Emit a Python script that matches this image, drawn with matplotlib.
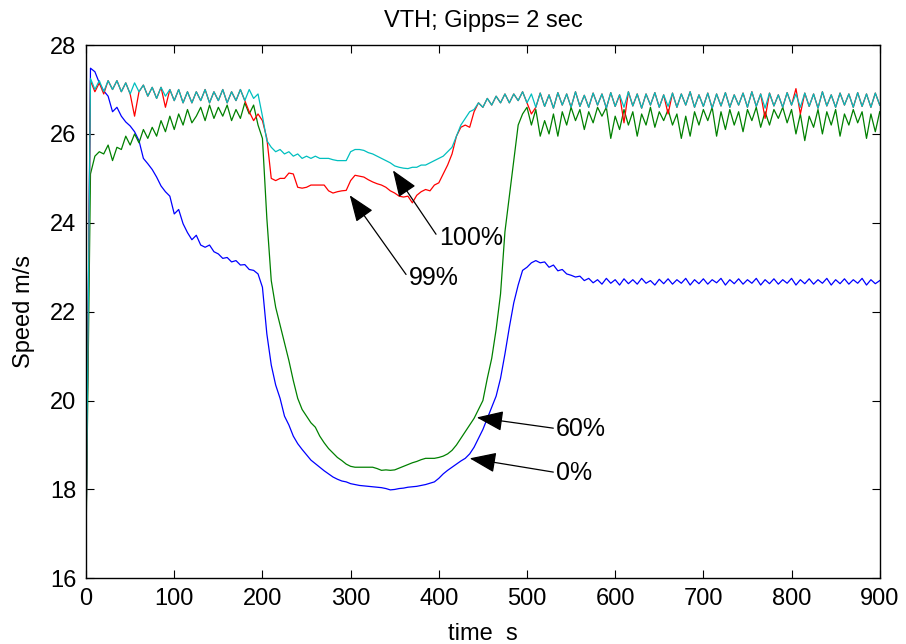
import numpy as np
import matplotlib.pyplot as plt

plt.rcParams['font.family'] = ['Liberation Sans', 'DejaVu Sans']

# time axis: one sample every 5 s, 0..900 s
time_s = np.arange(0, 905, 5)

# speed, 0% equipped (blue)
speed_0 = [
    17.0, 27.48, 27.4, 27.15, 26.97, 26.85, 26.5, 26.6, 26.4, 26.27,
    26.18, 26.05, 25.85, 25.45, 25.33, 25.2, 25.03, 24.83, 24.7, 24.6,
    24.2, 24.3, 23.98, 23.78, 23.62, 23.72, 23.5, 23.45, 23.5, 23.35,
    23.3, 23.2, 23.22, 23.12, 23.15, 23.05, 23.06, 22.95, 22.93, 22.85,
    22.55, 21.5, 20.8, 20.35, 20.05, 19.65, 19.45, 19.2, 19.03, 18.9,
    18.78, 18.66, 18.58, 18.5, 18.42, 18.35, 18.28, 18.23, 18.19, 18.17,
    18.13, 18.11, 18.09, 18.08, 18.07, 18.06, 18.05, 18.04, 18.02, 17.99,
    18.0, 18.02, 18.03, 18.05, 18.06, 18.07, 18.09, 18.11, 18.14, 18.17,
    18.25, 18.35, 18.43, 18.5, 18.57, 18.64, 18.7, 18.8, 18.95, 19.15,
    19.35, 19.6, 19.85, 20.1, 20.5, 21.05, 21.65, 22.2, 22.6, 22.93,
    23.0, 23.1, 23.15, 23.1, 23.12, 23.0, 23.05, 22.92, 22.95, 22.85,
    22.82, 22.78, 22.8, 22.7, 22.75, 22.65, 22.72, 22.62, 22.75, 22.64,
    22.72, 22.6, 22.74, 22.63, 22.72, 22.62, 22.75, 22.64, 22.7, 22.6,
    22.73, 22.63, 22.74, 22.62, 22.72, 22.64, 22.75, 22.6, 22.72, 22.63,
    22.74, 22.62, 22.72, 22.65, 22.75, 22.6, 22.72, 22.63, 22.74, 22.62,
    22.72, 22.64, 22.75, 22.6, 22.72, 22.63, 22.74, 22.62, 22.72, 22.64,
    22.75, 22.6, 22.72, 22.63, 22.74, 22.62, 22.72, 22.64, 22.75, 22.6,
    22.72, 22.63, 22.74, 22.62, 22.72, 22.64, 22.75, 22.6, 22.72, 22.63,
    22.7,
]

# speed, 60% equipped (green)
speed_60 = [
    16.9, 25.1, 25.5, 25.6, 25.55, 25.75, 25.4, 25.7, 25.65, 25.95,
    25.75, 26.0, 25.8, 26.1, 25.9, 26.15, 25.95, 26.3, 26.05, 26.4,
    26.1, 26.45, 26.2, 26.55, 26.25, 26.4, 26.6, 26.3, 26.65, 26.35,
    26.6, 26.4, 26.65, 26.3, 26.55, 26.35, 26.7, 26.45, 26.65, 26.2,
    25.9, 24.1, 22.7, 22.1, 21.7, 21.3, 20.9, 20.45, 20.05, 19.8,
    19.65, 19.5, 19.4, 19.2, 19.05, 18.92, 18.82, 18.72, 18.65, 18.57,
    18.52, 18.5, 18.5, 18.5, 18.5, 18.5, 18.47, 18.43, 18.44, 18.43,
    18.44, 18.48, 18.52, 18.56, 18.6, 18.63, 18.67, 18.7, 18.7, 18.7,
    18.72, 18.75, 18.8, 18.88, 19.0, 19.15, 19.3, 19.45, 19.6, 19.8,
    20.0, 20.5, 20.95, 21.6, 22.4, 23.8, 24.6, 25.4, 26.2, 26.45,
    26.6, 26.2, 26.55, 25.95, 26.3, 26.0, 26.45, 25.95, 26.5, 26.2,
    26.6, 26.3, 26.55, 26.1, 26.5, 26.25, 26.6, 26.4, 26.6, 25.9,
    26.4, 26.1, 26.55, 26.2, 26.5, 25.95, 26.45, 26.2, 26.6, 26.15,
    26.5, 26.3, 26.55, 26.2, 26.45, 25.9, 26.4, 25.95, 26.5, 26.2,
    26.55, 26.3, 26.6, 25.95, 26.5, 26.1, 26.55, 26.2, 26.5, 26.05,
    26.55, 26.3, 26.6, 26.15, 26.5, 26.2, 26.55, 26.35, 26.6, 26.25,
    26.55, 26.0, 26.45, 25.85, 26.4, 26.15, 26.55, 26.0, 26.5, 26.2,
    26.55, 25.95, 26.45, 26.2, 26.55, 26.25, 26.5, 25.9, 26.45, 26.05,
    26.5,
]

# speed, 99% equipped (red)
speed_99 = [
    17.0, 27.2, 26.95, 27.15, 26.9, 27.2, 27.0, 27.2, 26.95, 27.15,
    26.9, 26.4, 26.95, 27.1, 26.85, 27.05, 26.8, 27.05, 26.6, 27.0,
    26.75, 27.0, 26.7, 26.95, 26.7, 26.95, 26.75, 27.0, 26.7, 26.95,
    26.75, 27.0, 26.7, 26.95, 26.75, 27.0, 26.75, 26.5, 26.3, 26.45,
    26.3, 25.9, 25.0, 24.95, 25.0, 25.0, 25.12, 25.1, 24.8, 24.78,
    24.8, 24.85, 24.85, 24.85, 24.85, 24.72, 24.67, 24.7, 24.72, 24.73,
    24.95, 25.07, 25.05, 25.03, 24.97, 24.92, 24.88, 24.85, 24.8, 24.72,
    24.67, 24.6, 24.58, 24.6, 24.45, 24.62, 24.7, 24.75, 24.72, 24.85,
    24.9, 25.1, 25.3, 25.55, 25.95, 26.15, 26.2, 26.15, 26.5, 26.7,
    26.6, 26.8, 26.65, 26.85, 26.7, 26.9, 26.7, 26.9, 26.75, 26.95,
    26.7, 26.45, 26.6, 26.92, 26.62, 26.88, 26.58, 26.93, 26.65, 26.9,
    26.6, 26.95, 26.62, 26.87, 26.6, 26.92, 26.65, 26.9, 26.58, 26.93,
    26.62, 26.88, 26.25, 26.95, 26.63, 26.9, 26.58, 26.9, 26.65, 26.93,
    26.6, 26.88, 26.45, 26.92, 26.6, 26.9, 26.65, 26.95, 26.6, 26.88,
    26.62, 26.92, 26.58, 26.9, 26.63, 26.93, 26.6, 26.88, 26.65, 26.92,
    26.6, 26.95, 26.62, 26.9, 26.35, 26.92, 26.63, 26.88, 26.6, 26.93,
    26.65, 27.02, 26.45, 26.92, 26.62, 26.9, 26.58, 26.95, 26.63, 26.88,
    26.6, 26.92, 26.65, 26.9, 26.6, 26.93, 26.62, 26.9, 26.6, 26.92,
    26.65,
]

# speed, 100% equipped (cyan)
speed_100 = [
    17.0, 27.25, 27.0, 27.2, 26.95, 27.2, 27.0, 27.2, 26.95, 27.15,
    26.9, 27.15, 26.95, 27.1, 26.85, 27.05, 26.8, 27.05, 26.85, 27.0,
    26.75, 27.0, 26.7, 26.95, 26.7, 26.95, 26.75, 27.0, 26.7, 26.95,
    26.75, 27.0, 26.7, 26.95, 26.75, 27.0, 26.75, 27.0, 26.8, 26.9,
    26.4, 25.85, 25.7, 25.6, 25.65, 25.55, 25.6, 25.5, 25.55, 25.45,
    25.5, 25.45, 25.5, 25.45, 25.45, 25.45, 25.42, 25.4, 25.4, 25.4,
    25.6, 25.65, 25.65, 25.63, 25.58, 25.55, 25.5, 25.45, 25.4, 25.35,
    25.28, 25.25, 25.23, 25.22, 25.25, 25.25, 25.3, 25.3, 25.35, 25.4,
    25.45, 25.5, 25.6, 25.7, 25.95, 26.2, 26.35, 26.5, 26.55, 26.7,
    26.6, 26.8, 26.65, 26.85, 26.7, 26.9, 26.7, 26.9, 26.75, 26.95,
    26.7, 26.9, 26.6, 26.92, 26.62, 26.88, 26.58, 26.93, 26.65, 26.9,
    26.6, 26.95, 26.62, 26.87, 26.6, 26.92, 26.65, 26.9, 26.58, 26.93,
    26.62, 26.88, 26.6, 26.95, 26.63, 26.9, 26.58, 26.9, 26.65, 26.93,
    26.6, 26.88, 26.62, 26.92, 26.6, 26.9, 26.65, 26.95, 26.6, 26.88,
    26.62, 26.92, 26.58, 26.9, 26.63, 26.93, 26.6, 26.88, 26.65, 26.92,
    26.6, 26.95, 26.62, 26.9, 26.58, 26.92, 26.63, 26.88, 26.6, 26.93,
    26.65, 26.9, 26.6, 26.92, 26.62, 26.9, 26.58, 26.95, 26.63, 26.88,
    26.6, 26.92, 26.65, 26.9, 26.6, 26.93, 26.62, 26.9, 26.6, 26.92,
    26.65,
]

# annotation labels: (text, arrow tip (t, v), text position (t, v))
labels = ['100%', '99%', '60%', '0%']
tips = [(348, 25.18), (299, 24.62), (443, 19.62), (435, 18.7)]
text_pos = [(400, 23.65), (366, 22.75), (533, 19.37), (533, 18.38)]

fig = plt.figure(figsize=(9.06, 6.44), dpi=100)
ax = fig.add_axes([0.095, 0.102, 0.876, 0.828])

lw = 0.9
ax.plot(time_s, speed_0, color=(0, 0, 1), lw=lw)
ax.plot(time_s, speed_60, color=(0, 0.5, 0), lw=lw)
ax.plot(time_s, speed_99, color=(1, 0, 0), lw=lw)
ax.plot(time_s, speed_100, color=(0, 0.75, 0.75), lw=lw)

for lab, tip, pos in zip(labels, tips, text_pos):
    ax.annotate(lab, xy=tip, xytext=pos, fontsize=18, ha='left', va='center',
                arrowprops=dict(arrowstyle='-|>,head_length=1.1,head_width=0.42',
                                mutation_scale=15, color='k', lw=0.9,
                                shrinkA=0, shrinkB=0, relpos=(0, 0.5)))

ax.set_xlim(0, 900)
ax.set_ylim(16, 28)
ax.set_xticks(range(0, 901, 100))
ax.set_yticks(range(16, 29, 2))
ax.tick_params(direction='in', top=True, right=True, length=6, width=0.8,
               labelsize=17, pad=7)
for sp in ax.spines.values():
    sp.set_linewidth(1.0)

ax.set_title('VTH; Gipps= 2 sec', fontsize=17, pad=13)
ax.set_xlabel('time  s', fontsize=17, labelpad=9)
ax.set_ylabel('Speed m/s', fontsize=17, labelpad=11)

fig.savefig('out.png', dpi=100)
